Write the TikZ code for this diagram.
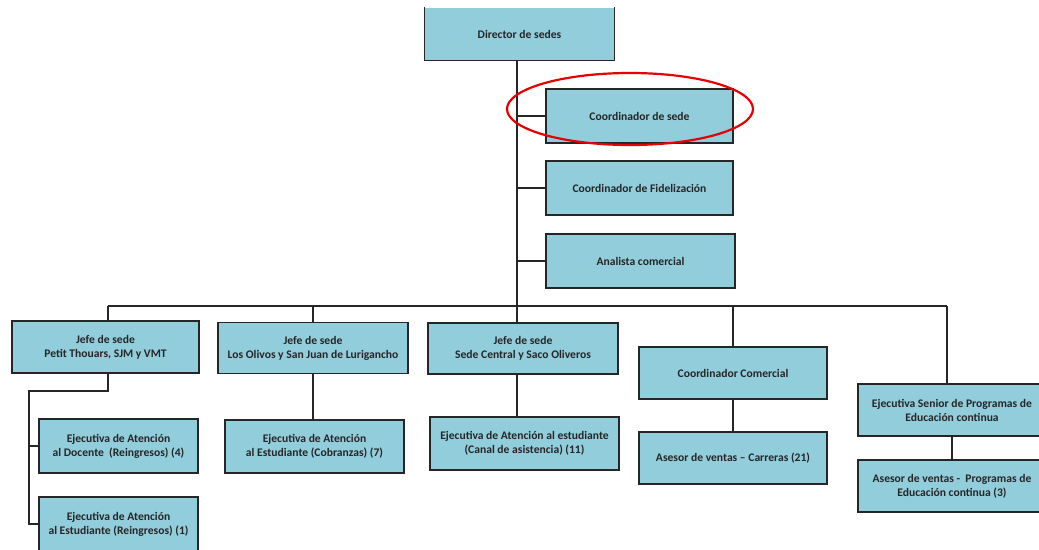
\documentclass[tikz,border=0pt]{standalone}
\usepackage{fontspec}
\setmainfont{Carlito}
\usetikzlibrary{positioning}
\definecolor{boxblue}{RGB}{146,205,220}
\definecolor{ringred}{RGB}{232,0,0}

\begin{document}
\begin{tikzpicture}[x=1pt,y=-1pt,
  unit/.style={draw=black!85,line width=1.1pt,fill=boxblue,align=center,inner sep=0pt,
    font=\fontsize{11.6}{14}\selectfont\bfseries,text=black!85},
  wire/.style={draw=black!85,line width=1.1pt},
  ring/.style={draw=ringred,line width=2.2pt}]
\useasboundingbox (0,0) rectangle (1039,549);
\clip (0,0) rectangle (1039,549);

\node[unit,draw=none,minimum width=189,minimum height=52](dir) at(519.5,34){Director de sedes};
\draw[wire] (dir.north west) -- (dir.south west) -- (dir.south east) -- (dir.north east);

\node[unit,minimum width=187,minimum height=54](csede) at(639.5,116){Coordinador de sede};
\node[unit,minimum width=187,minimum height=54](cfid) at(639.5,188){Coordinador de Fidelización};
\node[unit,minimum width=189,minimum height=54](anal) at(640.5,261){Analista comercial};

\node[unit,minimum width=187,minimum height=52](jefeA) at(105.5,347){Jefe de sede\\Petit Thouars, SJM y VMT};
\node[unit,minimum width=190,minimum height=51](jefeB) at(313,348){Jefe de sede\\Los Olivos y San Juan de Lurigancho};
\node[unit,minimum width=190,minimum height=51](jefeC) at(523,348.5){Jefe de sede\\Sede Central y Saco Oliveros};
\node[unit,minimum width=188,minimum height=52](ccom) at(733,373){Coordinador Comercial};
\node[unit,minimum width=188,minimum height=52](senior) at(952,410){Ejecutiva Senior de Programas de\\Educación continua};

\node[unit,minimum width=159,minimum height=54](ejeDoc) at(118.5,446){Ejecutiva de Atención\\al Docente\ \ (Reingresos) (4)};
\node[unit,minimum width=159,minimum height=54](ejeEst) at(118.5,524){Ejecutiva de Atención\\al Estudiante (Reingresos) (1)};
\node[unit,minimum width=179,minimum height=53](ejeCob) at(314.5,446.5){Ejecutiva de Atención\\al Estudiante (Cobranzas) (7)};
\node[unit,minimum width=189,minimum height=53](ejeCan) at(524.5,443.5){Ejecutiva de Atención al estudiante\\(Canal de asistencia) (11)};
\node[unit,minimum width=188,minimum height=52](asCar) at(733,458){Asesor de ventas -- Carreras (21)};
\node[unit,minimum width=188,minimum height=52](asProg) at(952,486){Asesor de ventas -\ \ Programas de\\Educación continua (3)};

% lines
\coordinate (trunk) at (517,60);
\coordinate (barL) at (108,306);
\coordinate (barR) at (947,306);
\coordinate (spine) at (29,391);
\draw[wire] (trunk) -- (trunk |- jefeC.north);
\foreach \n in {csede,cfid,anal}
  \draw[wire] (\n.west) -- (\n.west -| trunk);
\draw[wire] (barL) -- (barR);
\draw[wire] (barL) -- (barL |- jefeA.north);
\draw[wire] (barR) -- (barR |- senior.north);
\draw[wire] (jefeB.north) -- (jefeB.north |- barL);
\draw[wire] (ccom.north) -- (ccom.north |- barL);

\draw[wire] (barL |- jefeA.south) |- (spine) |- (ejeEst.west);
\draw[wire] (ejeDoc.west) -- (ejeDoc.west -| spine);
\draw[wire] (jefeB.south) -- (jefeB.south |- ejeCob.north);
\draw[wire] (trunk |- jefeC.south) -- (trunk |- ejeCan.north);
\draw[wire] (ccom.south) -- (asCar.north);
\draw[wire] (senior.south) -- (asProg.north);

\draw[ring] (630,109) ellipse [x radius=123pt, y radius=36pt];
\end{tikzpicture}
\end{document}
